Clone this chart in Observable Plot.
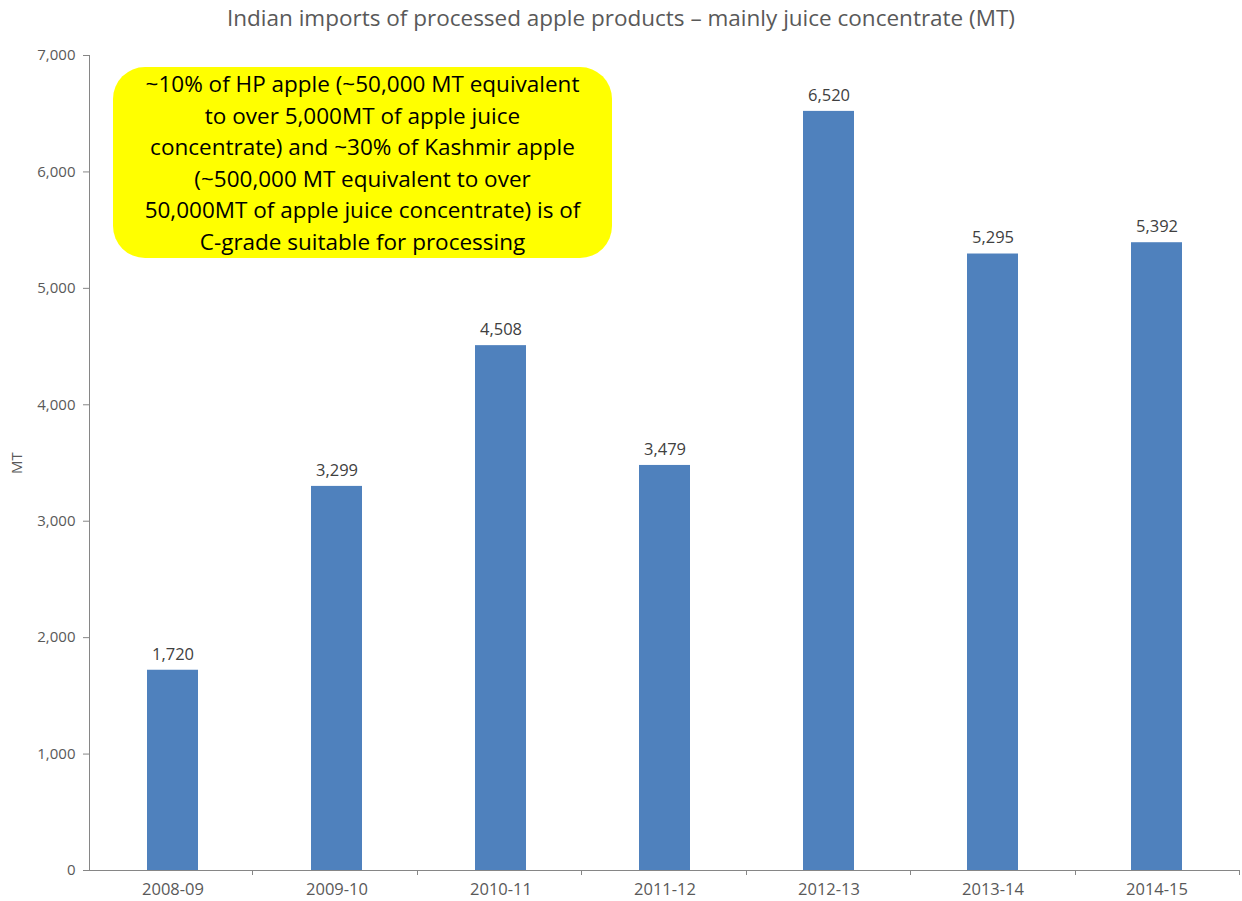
<!DOCTYPE html>
<html>
<head>
<meta charset="utf-8">
<script src="https://cdn.jsdelivr.net/npm/d3@7"></script>
<script src="https://cdn.jsdelivr.net/npm/@observablehq/plot@0.6"></script>
<style>
  html, body { margin: 0; padding: 0; background: #fff; }
  #wrap { position: relative; width: 1242px; height: 901px; font-family: "Open Sans", Lato, sans-serif; }
  #title { height: 40px; line-height: 36px; text-align: center; font-size: 22.5px; color: #595959; }
  #note {
    position: absolute; left: 113px; top: 67px; width: 499px; height: 191px;
    background: #ffff00; border-radius: 32px; box-sizing: border-box;
    display: flex; align-items: center; justify-content: center; text-align: center;
    font-size: 22.5px; line-height: 31.5px; color: #000; white-space: nowrap;
  }
</style>
</head>
<body>
<div id="wrap">
  <div id="title">Indian imports of processed apple products – mainly juice concentrate (MT)</div>
  <div id="chart"></div>
  <div id="note">~10% of HP apple (~50,000 MT equivalent<br>to over 5,000MT of apple juice<br>concentrate) and ~30% of Kashmir apple<br>(~500,000 MT equivalent to over<br>50,000MT of apple juice concentrate) is of<br>C-grade suitable for processing</div>
</div>
<script>
// Fiscal years and imported volume (metric tonnes)
const years = ["2008-09", "2009-10", "2010-11", "2011-12", "2012-13", "2013-14", "2014-15"];
const volumes = [1720, 3299, 4508, 3479, 6520, 5295, 5392];
const yTicks = [0, 1000, 2000, 3000, 4000, 5000, 6000, 7000];

const rows = years.map((year, i) => ({year, value: volumes[i]}));
const fmt = d3.format(",");
const axisColor = "#868686";
const textColor = "#595959";

// Small tick marks on the category axis, placed at the boundaries between bands
function bandBoundaryTicks(index, scales, values, dimensions) {
  const {width, height, marginLeft, marginRight, marginBottom} = dimensions;
  const n = years.length;
  const step = (width - marginLeft - marginRight) / n;
  const g = d3.create("svg:g").attr("stroke", axisColor).attr("stroke-width", 1);
  const y0 = height - marginBottom;
  for (let i = 1; i <= n; i++) {
    const x = Math.round(marginLeft + i * step) - 0.5;
    g.append("line").attr("x1", x).attr("x2", x).attr("y1", y0).attr("y2", y0 + 5);
  }
  return g.node();
}

const chart = Plot.plot({
  width: 1242,
  height: 861,
  marginTop: 15,
  marginBottom: 31,
  marginLeft: 89,
  marginRight: 2,
  style: {fontFamily: "'Open Sans', Lato, sans-serif", fontSize: "14.5px", color: textColor, background: "#fff"},
  x: {domain: years, paddingInner: 0.69, paddingOuter: 0.345},
  y: {domain: [0, 7000]},
  marks: [
    Plot.axisX({label: null, tickSize: 0, tickPadding: 13, fontSize: 16.5, fill: textColor}),
    Plot.axisY({ticks: yTicks, tickFormat: fmt, label: "MT", labelAnchor: "center", labelArrow: "none", labelOffset: 78, tickSize: 6, tickPadding: 8, fontSize: 15, fill: textColor, stroke: axisColor}),
    Plot.barY(rows, {x: "year", y: "value", fill: "#4f81bd"}),
    Plot.text(rows, {x: "year", y: "value", text: d => fmt(d.value), dy: -16, fill: "#404040", fontSize: 16.5}),
    Plot.ruleY([0], {stroke: axisColor}),
    Plot.frame({anchor: "left", stroke: axisColor}),
    bandBoundaryTicks
  ]
});
document.getElementById("chart").appendChild(chart);
</script>
</body>
</html>
